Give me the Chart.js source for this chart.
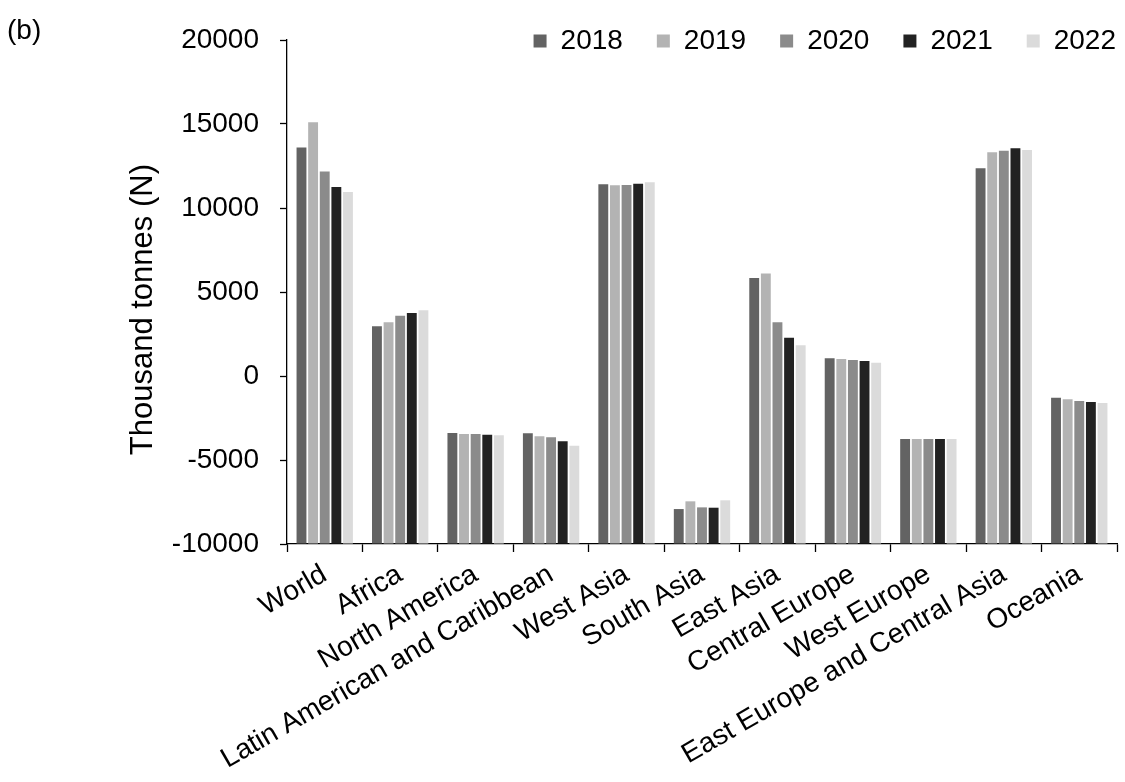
<!DOCTYPE html>
<html>
<head>
<meta charset="utf-8">
<title>Thousand tonnes (N) by region, 2018-2022</title>
<script src="https://cdn.jsdelivr.net/npm/chart.js@4.4.0/dist/chart.umd.min.js"></script>
<style>
  html, body { margin: 0; padding: 0; background: #ffffff; }
  #wrap { position: relative; width: 1125px; height: 782px; }
</style>
</head>
<body>
<div id="wrap"><canvas id="chart" width="1125" height="782"></canvas></div>
<script>
// Regions along the category axis
const categories = [
  'World', 'Africa', 'North America', 'Latin American and Caribbean',
  'West Asia', 'South Asia', 'East Asia', 'Central Europe',
  'West Europe', 'East Europe and Central Asia', 'Oceania'
];

// Series names
const years = ['2018', '2019', '2020', '2021', '2022'];

// Values per year, thousand tonnes of N, one entry per region
const v2018 = [13600, 2960, -3390, -3410, 11410, -7920, 5830, 1050, -3750, 12360, -1290];
const v2019 = [15100, 3200, -3450, -3590, 11350, -7460, 6100, 1010, -3750, 13320, -1390];
const v2020 = [12180, 3590, -3450, -3650, 11370, -7820, 3200, 950, -3750, 13410, -1490];
const v2021 = [11250, 3750, -3490, -3890, 11450, -7840, 2280, 890, -3750, 13550, -1550];
const v2022 = [10950, 3910, -3530, -4150, 11530, -7400, 1830, 790, -3750, 13450, -1600];

// Value-axis ticks
const yTicks = [-10000, -5000, 0, 5000, 10000, 15000, 20000];

const panelLabel = '(b)';
const yTitle = 'Thousand tonnes (N)';

const seriesValues = [v2018, v2019, v2020, v2021, v2022];
const seriesColors = ['#636363', '#b3b3b3', '#8b8b8b', '#222222', '#dbdbdb'];

const FONT = '"Liberation Sans", Arial, Helvetica, sans-serif';
const TEXT_SIZE = 28;
Chart.defaults.font.family = FONT;
Chart.defaults.color = '#000000';

// Bars grow up from the bottom of the value axis
const axisFloor = yTicks[0];

const datasets = years.map((y, i) => ({
  label: y,
  data: seriesValues[i],
  backgroundColor: seriesColors[i],
  borderWidth: 0,
  base: axisFloor,
  barPercentage: 0.85,
  categoryPercentage: 0.77
}));

// Legend sits inside the top-right corner of the plot
const cornerLegend = {
  id: 'cornerLegend',
  afterLayout(chart) {
    const lg = chart.legend;
    if (!lg) return;
    lg.left += 33; lg.right += 33;
    lg.top -= 7; lg.bottom += 40;
  }
};

// Panel letter and value-axis caption
const captions = {
  id: 'captions',
  afterDraw(chart) {
    const ctx = chart.ctx;
    const area = chart.chartArea;
    ctx.save();
    ctx.fillStyle = '#000000';
    ctx.textBaseline = 'middle';
    ctx.textAlign = 'left';
    ctx.font = TEXT_SIZE + 'px ' + FONT;
    ctx.fillText(panelLabel, 7, 31);

    ctx.font = '31px ' + FONT;
    ctx.textAlign = 'center';
    ctx.translate(143, area.top + (area.bottom - area.top) * 0.535);
    ctx.rotate(-Math.PI / 2);
    ctx.fillText(yTitle, 0, 0);
    ctx.restore();
  }
};

new Chart(document.getElementById('chart'), {
  type: 'bar',
  data: { labels: categories, datasets },
  plugins: [cornerLegend, captions],
  options: {
    responsive: false,
    animation: false,
    devicePixelRatio: 1,
    layout: { padding: { left: 0, right: 8, top: 0, bottom: 0 } },
    plugins: {
      tooltip: { enabled: false },
      title: { display: false },
      legend: {
        display: true,
        position: 'top',
        align: 'end',
        maxHeight: 40,
        labels: {
          boxWidth: 13,
          boxHeight: 13,
          padding: 34,
          color: '#000000',
          font: { size: TEXT_SIZE, family: FONT }
        }
      }
    },
    scales: {
      x: {
        offset: true,
        grid: {
          display: true,
          offset: true,
          drawOnChartArea: false,
          drawTicks: true,
          tickLength: 8,
          tickColor: '#000000',
          tickWidth: 1.3
        },
        border: { display: true, color: '#000000', width: 1.3 },
        ticks: {
          color: '#000000',
          font: { size: TEXT_SIZE, family: FONT },
          minRotation: 30,
          maxRotation: 30,
          autoSkip: false,
          padding: 6
        },
        afterFit(scale) { scale.height = 238; }
      },
      y: {
        min: yTicks[0],
        max: yTicks[yTicks.length - 1],
        afterBuildTicks(scale) { scale.ticks = yTicks.map(v => ({ value: v })); },
        grid: {
          display: true,
          drawOnChartArea: false,
          drawTicks: true,
          tickLength: 7,
          tickColor: '#000000',
          tickWidth: 1.3
        },
        border: { display: true, color: '#000000', width: 1.3 },
        ticks: {
          color: '#000000',
          font: { size: TEXT_SIZE, family: FONT },
          padding: 21,
          callback: v => String(v)
        },
        title: { display: false },
        afterFit(scale) { scale.width = 287; }
      }
    }
  }
});
</script>
</body>
</html>
